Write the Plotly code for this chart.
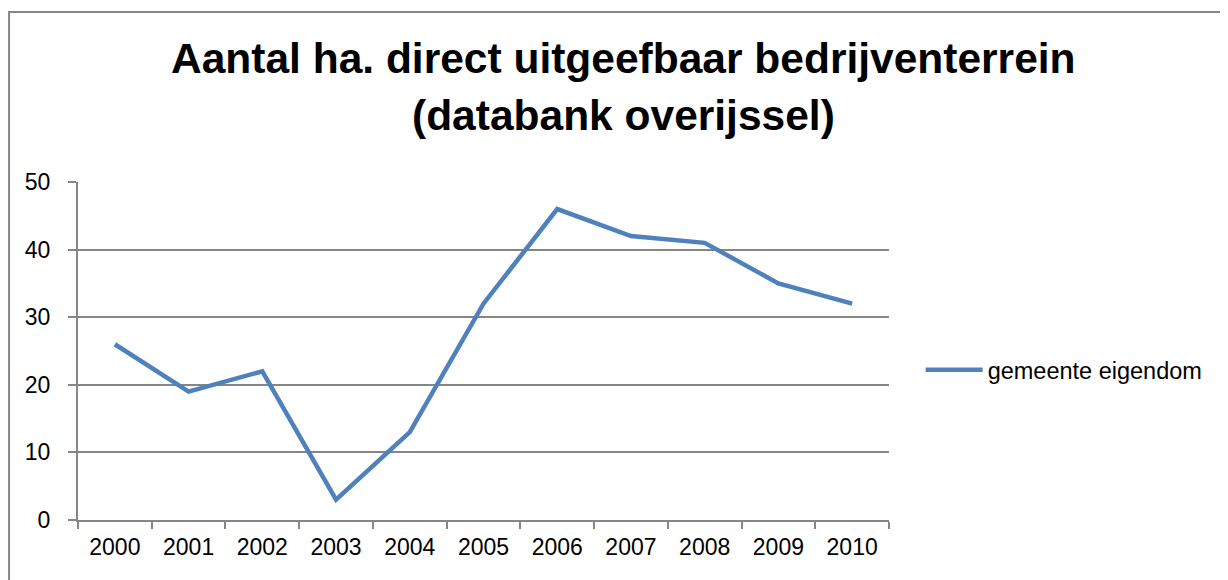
import plotly.graph_objects as go

# data
jaren = ["2000", "2001", "2002", "2003", "2004", "2005", "2006", "2007", "2008", "2009", "2010"]
gemeente_eigendom = [26, 19, 22, 3, 13, 32, 46, 42, 41, 35, 32]
y_ticks = [0, 10, 20, 30, 40, 50]

titel_1 = "Aantal ha. direct uitgeefbaar bedrijventerrein"
titel_2 = "(databank overijssel)"

grijs = "#868686"
blauw = "#4F81BD"
lettertype = "Liberation Sans"

fig = go.Figure()
fig.add_scatter(x=jaren, y=gemeente_eigendom, mode="lines", name="gemeente eigendom",
                line=dict(color=blauw, width=4.5))

fig.update_layout(
    width=1228, height=580,
    margin=dict(l=70, r=347, t=174, b=68),
    paper_bgcolor="white", plot_bgcolor="white",
    font=dict(family=lettertype, size=23, color="black"),
    showlegend=True,
    legend=dict(x=1.039, y=0.444, xanchor="left", yanchor="middle",
                itemwidth=57, font=dict(size=23.5), bgcolor="rgba(0,0,0,0)"),
)

# title as two annotations, one per line
for tekst, ypos in [(titel_1, 1.364), (titel_2, 1.198)]:
    fig.add_annotation(text="<b>" + tekst + "</b>", xref="paper", yref="paper",
                       x=0.673, y=ypos, xanchor="center", yanchor="middle",
                       showarrow=False, font=dict(family=lettertype, size=42.5, color="black"))

fig.update_xaxes(type="category", range=[-0.5, 10.5], showgrid=False,
                 showline=True, linecolor=grijs, linewidth=2,
                 ticks="outside", tickson="boundaries", ticklen=7, tickwidth=2,
                 tickcolor=grijs, ticklabelstandoff=5, fixedrange=True)
fig.update_yaxes(range=[0, 50], tickvals=y_ticks, showgrid=True, gridcolor=grijs,
                 gridwidth=2, showline=True, linecolor=grijs, linewidth=2,
                 ticks="outside", ticklen=8, tickwidth=2, tickcolor=grijs,
                 zeroline=False, ticklabelstandoff=13)

# outer chart frame
fig.add_shape(type="rect", xref="paper", yref="paper",
              x0=-0.085, x1=2, y0=-1, y1=1.503,
              line=dict(color=grijs, width=2), layer="below")

fig.write_html("out.html")
